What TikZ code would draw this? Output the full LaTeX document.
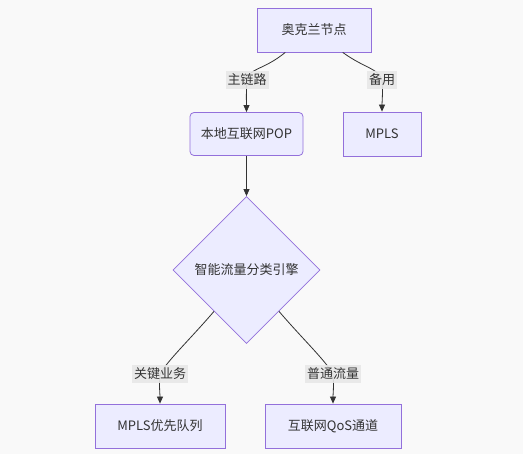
\documentclass[tikz,border=0pt]{standalone}
\usepackage{fontspec}
\newfontfamily\cjk{Noto Sans CJK SC}
\usepackage{tikz}
\usetikzlibrary{shapes.geometric, arrows.meta, positioning, calc}

\definecolor{nodefill}{HTML}{ECECFF}
\definecolor{nodeline}{HTML}{9370DB}
\definecolor{edgeline}{HTML}{333333}
\definecolor{lblfill}{HTML}{E8E8E8}
\definecolor{canvas}{HTML}{F9F9F9}

\begin{document}
\begin{tikzpicture}[
        x=1pt, y=-1pt,
        every node/.style={font=\cjk\fontsize{13}{15}\selectfont, text=edgeline, align=center},
        procbox/.style={draw=nodeline, fill=nodefill, line width=0.8pt, minimum height=44pt, inner sep=0pt},
        decide/.style={diamond, aspect=1, draw=nodeline, fill=nodefill, line width=0.8pt, minimum size=147pt, inner sep=0pt},
        edgelbl/.style={fill=lblfill, fill opacity=0.9, text opacity=1, inner sep=2pt, minimum height=18pt},
        edge/.style={draw=edgeline, line width=0.8pt, -{Triangle[length=7pt, width=6pt]}}
    ]
        % --- canvas ---
        \fill[canvas] (0,0) rectangle (523,454);
        \useasboundingbox (0,0) rectangle (523,454);

        % --- Nodes ---
        \node[procbox, minimum width=114pt] (oak) at (314,30) {奥克兰节点};
        \node[procbox, minimum width=113pt, minimum height=43pt, rounded corners=4pt] (pop) at (246.5,134) {本地互联网POP};
        \node[procbox, minimum width=78pt] (mpls) at (382,134) {MPLS};
        \node[decide] (cls) at (246.5,270) {智能流量分类引擎};
        \node[procbox, minimum width=130pt] (prio) at (160,426) {MPLS优先队列};
        \node[procbox, minimum width=136pt] (qos) at (333,426) {互联网QoS通道};

        % label spots
        \coordinate (cMain) at (247,80);
        \coordinate (cBack) at (382,80);
        \coordinate (cKey) at (160,374);
        \coordinate (cNorm) at (333,374);

        % --- Edges ---
        \draw[edge] ($(oak.south)!0.5!(oak.south west)$) .. controls +(-22,18) and +(2,-12) .. (cMain)
            .. controls +(-1,14) and +(0,-10) .. (pop.north);
        \draw[edge] ($(oak.south)!0.5!(oak.south east)$) .. controls +(22,16) and +(-4,-12) .. (cBack)
            .. controls +(1,14) and +(0,-10) .. (mpls.north);
        \draw[edge] (pop.south) -- (cls.north);
        \draw[edge] ($(cls.west)!0.56!(cls.south)$) .. controls +(-24,28) and +(8,-14) .. (cKey)
            .. controls +(-1,14) and +(0,-10) .. (prio.north);
        \draw[edge] ($(cls.east)!0.56!(cls.south)$) .. controls +(24,28) and +(-8,-14) .. (cNorm)
            .. controls +(1,14) and +(0,-10) .. (qos.north);

        % --- Edge labels ---
        \node[edgelbl] (lMain) at (cMain) {主链路};
        \node[edgelbl] (lBack) at (cBack) {备用};
        \node[edgelbl] (lKey) at (cKey) {关键业务};
        \node[edgelbl] (lNorm) at (cNorm) {普通流量};
\end{tikzpicture}
\end{document}
